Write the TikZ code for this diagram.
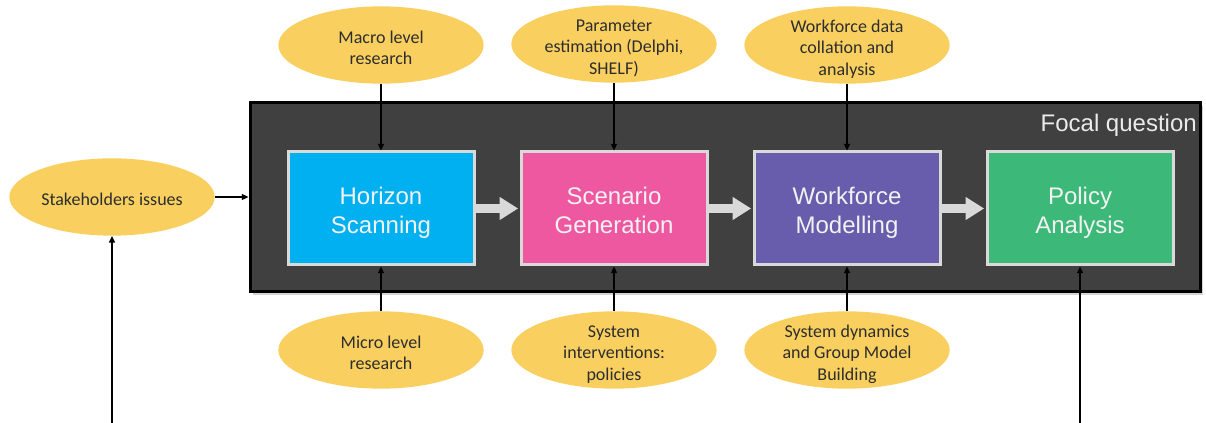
\documentclass[tikz,border=0pt]{standalone}
\usepackage{fontspec}
\setmainfont{Carlito}
\newfontfamily\boxfont{Liberation Sans}
\usetikzlibrary{arrows.meta,shapes.geometric,shadows}

\definecolor{ideaYellow}{RGB}{249,208,96}
\definecolor{focalGray}{RGB}{64,64,64}
\definecolor{edgeGray}{RGB}{217,217,217}
\definecolor{hsBlue}{RGB}{0,176,240}
\definecolor{sgPink}{RGB}{238,88,160}
\definecolor{wmPurple}{RGB}{104,92,172}
\definecolor{paGreen}{RGB}{60,185,120}
\definecolor{ideaText}{RGB}{45,45,45}

% centred multi-line text that does not grow its node
\newcommand{\ideatxt}[1]{\raisebox{-7pt}[0pt][0pt]{\fontsize{13.5}{16}\selectfont\begin{tabular}{@{}c@{}}#1\end{tabular}}}
\newcommand{\stagetxt}[1]{\raisebox{-8pt}[0pt][0pt]{\begin{tabular}{@{}c@{}}#1\end{tabular}}}

\begin{document}
\begin{tikzpicture}[x=0.75pt,y=0.75pt,yscale=-1,xscale=1,
  idea/.style={ellipse,fill=ideaYellow,inner sep=0pt,minimum width=154pt,minimum height=58pt,text=ideaText},
  stage/.style={draw=edgeGray,line width=2.25pt,minimum width=139.5pt,minimum height=84.75pt,
    inner sep=0pt,text=white!95!black,font=\boxfont\fontsize{18}{22}\selectfont},
  conn/.style={draw=black,line width=0.9pt,-{Triangle[length=5pt,width=4.5pt]}},
  flow/.style={draw=edgeGray,line width=6.5pt,-{Triangle[length=14pt,width=16.5pt]},shorten >=1pt}]
\path[use as bounding box] (0,0) rectangle (1206,423);

% focal question frame
\node[fill=focalGray,draw=black,line width=2.25pt,minimum width=712.5pt,minimum height=141.75pt,
  drop shadow={shadow xshift=2pt,shadow yshift=-2pt,opacity=0.35}] (focal) at (725,197.5) {};
\node[anchor=east,inner sep=0pt,text=white!92!black,font=\boxfont\fontsize{18}{22}\selectfont] (fq) at (1197,125) {Focal question};

% stages
\node[stage,fill=hsBlue] (horizon) at (381,208.5) {\stagetxt{Horizon\\Scanning}};
\node[stage,fill=sgPink] (scenario) at (614,208.5) {\stagetxt{Scenario\\Generation}};
\node[stage,fill=wmPurple] (workforce) at (847,208.5) {\stagetxt{Workforce\\Modelling}};
\node[stage,fill=paGreen] (policy) at (1080,208.5) {\stagetxt{Policy\\Analysis}};

\draw[flow] (horizon) -- (scenario);
\draw[flow] (scenario) -- (workforce);
\draw[flow] (workforce) -- (policy);

% inputs
\node[idea] (stake) at (112,197) {\ideatxt{Stakeholders issues}};
\node[idea] (macro) at (381,45) {\ideatxt{Macro level\\research}};
\node[idea] (param) at (614,44) {\ideatxt{Parameter\\estimation (Delphi,\\SHELF)}};
\node[idea] (wfdata) at (847,45) {\ideatxt{Workforce data\\collation and\\analysis}};
\node[idea] (micro) at (381,350) {\ideatxt{Micro level\\research}};
\node[idea] (sysint) at (614,350) {\ideatxt{System\\interventions:\\policies}};
\node[idea] (sysdyn) at (847,350) {\ideatxt{System dynamics\\and Group Model\\Building}};

\draw[conn] (stake) -- (stake -| focal.west);
\draw[conn] (macro) -- (horizon);
\draw[conn] (param) -- (scenario);
\draw[conn] (wfdata) -- (workforce);
\draw[conn] (micro) -- (horizon);
\draw[conn] (sysint) -- (scenario);
\draw[conn] (sysdyn) -- (workforce);

% feedback legs
\coordinate (fbL) at (112,423);
\coordinate (fbR) at (1080,423);
\draw[conn] (fbL) -- (stake);
\draw[conn] (fbR) -- (policy);
\end{tikzpicture}
\end{document}
